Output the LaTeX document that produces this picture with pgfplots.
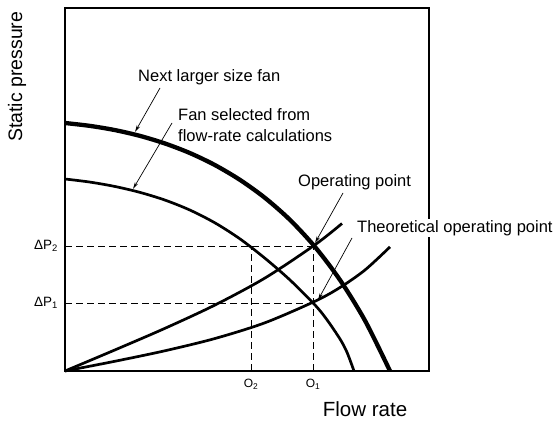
\documentclass[border=0pt]{standalone}
\usepackage{fontspec}
\setmainfont{Liberation Sans}
\usepackage{pgfplots}
\pgfplotsset{compat=1.18}
\usetikzlibrary{arrows.meta}
\begin{document}
\begin{tikzpicture}
\path[use as bounding box] (0,0) rectangle (554bp,424bp);
\begin{axis}[
  at={(65bp,53bp)}, anchor=south west,
  scale only axis, width=364bp, height=363bp,
  xmin=0, xmax=364, ymin=0, ymax=363,
  clip=false,
  axis line style={line width=2.2bp},
  major tick length=0pt,
  xtick={186,248}, xticklabels={O\textsubscript{2},O\textsubscript{1}},
  ytick={68,125}, yticklabels={ΔP\textsubscript{1},ΔP\textsubscript{2}},
  xticklabel style={font=\fontsize{12bp}{14bp}\selectfont, anchor=north, inner sep=0pt, yshift=-8bp},
  yticklabel style={font=\fontsize{13.5bp}{16bp}\selectfont, anchor=east, inner sep=0pt, xshift=-7bp},
  xlabel={Flow rate},
  ylabel={Static pressure},
  xlabel style={font=\fontsize{20.5bp}{24bp}\selectfont, at={(rel axis cs:0.708,-0.1267)}, anchor=base west, inner sep=0pt},
  ylabel style={font=\fontsize{19.5bp}{24bp}\selectfont, at={(rel axis cs:-0.118,0.631)}, anchor=base west, inner sep=0pt, rotate=0},
]
% dashed guide lines
\addplot[black, line width=0.9bp, dash pattern=on 7bp off 4bp] coordinates {(0,125) (248,125)};
\addplot[black, line width=0.9bp, dash pattern=on 7bp off 4bp] coordinates {(0,68) (248,68)};
\addplot[black, line width=0.9bp, dash pattern=on 7bp off 4bp] coordinates {(186,0) (186,125)};
\addplot[black, line width=0.9bp, dash pattern=on 7bp off 4bp] coordinates {(248,0) (248,125)};
% next larger size fan (thick)
\addplot[black, line width=4.3bp, smooth, tension=0.5] coordinates {
  (0,248) (25,245.1) (50,240.9) (75,235.1) (100,227.5) (125,217.9) (150,205.9)
  (175,191.1) (200,173.1) (225,151.1) (250,124.1) (275,91) (300,50.4) (325,0)};
% fan selected from flow-rate calculations
\addplot[black, line width=2.7bp, smooth, tension=0.5] coordinates {
  (0,192) (25,188.9) (50,184.5) (75,178.6) (100,170.9) (125,160.9) (150,148.1)
  (175,132.1) (200,112.7) (225,91) (250,66) (262,51.2) (275,32) (282,18.7) (289,0)};
% system curve (upper)
\addplot[black, line width=2.7bp, smooth, tension=0.5] coordinates {
  (0,0) (50,21.1) (100,42.7) (150,66) (200,93) (250,126.2) (277,147.5)};
% system curve (lower)
\addplot[black, line width=2.7bp, smooth, tension=0.5] coordinates {
  (0,0) (50,9.75) (100,20.25) (150,32.5) (200,48.25) (250,69.75) (275,83.5) (300,101) (325,124.1)};
% annotations
\draw[line width=0.7bp, -{Stealth[length=7bp,width=3.5bp]}] (axis cs:95,283) -- (axis cs:70,239);
\draw[line width=0.7bp, -{Stealth[length=7bp,width=3.5bp]}] (axis cs:107,248) -- (axis cs:68,182);
\draw[line width=0.7bp, -{Stealth[length=7bp,width=3.5bp]}] (axis cs:278,178) -- (axis cs:250,128);
\draw[line width=0.7bp, -{Stealth[length=7bp,width=3.5bp]}] (axis cs:287,133) -- (axis cs:253,71);
\node[font=\fontsize{16.5bp}{21bp}\selectfont, anchor=west, inner sep=0pt] at (axis cs:73,294) {Next larger size fan};
\node[font=\fontsize{16.5bp}{21bp}\selectfont, anchor=west, inner sep=0pt, align=left] at (axis cs:113,245.5) {Fan selected from\\flow-rate calculations};
\node[font=\fontsize{16.5bp}{21bp}\selectfont, anchor=west, inner sep=0pt] at (axis cs:233,189) {Operating point};
\node[font=\fontsize{16.5bp}{21bp}\selectfont, anchor=west, inner sep=1pt, fill=white] at (axis cs:291,143) {Theoretical operating point};
\end{axis}
\end{tikzpicture}
\end{document}
